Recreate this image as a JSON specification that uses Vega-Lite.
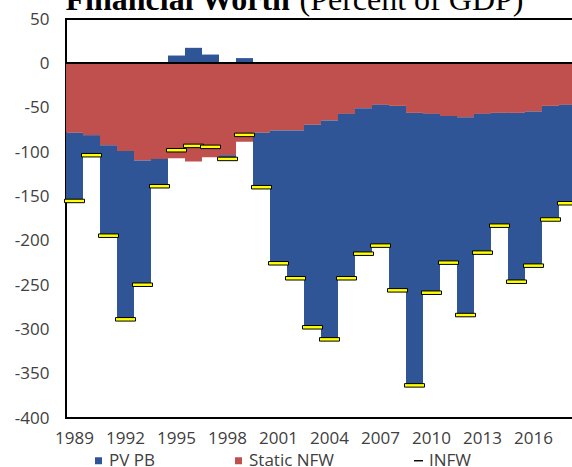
{
  "$schema": "https://vega.github.io/schema/vega-lite/v6.json",
  "autosize": "none",
  "padding": {"left": 66, "top": 19, "right": 0, "bottom": 49},
  "width": 510,
  "height": 399,
  "background": "#ffffff",
  "config": {
    "view": {"stroke": "#000000", "strokeWidth": 2},
    "axis": {"labelFont": "Open Sans", "labelFontSize": 17, "labelColor": "#404040", "ticks": false, "domain": false, "grid": false}
  },
  "data": {"values": [
    {"year": 1989, "series": "Static NFW", "value": -78.4}, {"year": 1989, "series": "PV PB", "value": -76.8}, {"year": 1989, "series": "INFW", "value": -155.2},
    {"year": 1990, "series": "Static NFW", "value": -81.0}, {"year": 1990, "series": "PV PB", "value": -22.6}, {"year": 1990, "series": "INFW", "value": -103.6},
    {"year": 1991, "series": "Static NFW", "value": -92.3}, {"year": 1991, "series": "PV PB", "value": -102.1}, {"year": 1991, "series": "INFW", "value": -194.4},
    {"year": 1992, "series": "Static NFW", "value": -98.8}, {"year": 1992, "series": "PV PB", "value": -189.9}, {"year": 1992, "series": "INFW", "value": -288.7},
    {"year": 1993, "series": "Static NFW", "value": -109.7}, {"year": 1993, "series": "PV PB", "value": -140.0}, {"year": 1993, "series": "INFW", "value": -249.7},
    {"year": 1994, "series": "Static NFW", "value": -107.8}, {"year": 1994, "series": "PV PB", "value": -30.8}, {"year": 1994, "series": "INFW", "value": -138.6},
    {"year": 1995, "series": "Static NFW", "value": -107.0}, {"year": 1995, "series": "PV PB", "value": 8.8}, {"year": 1995, "series": "INFW", "value": -98.0},
    {"year": 1996, "series": "Static NFW", "value": -110.8}, {"year": 1996, "series": "PV PB", "value": 17.5}, {"year": 1996, "series": "INFW", "value": -93.1},
    {"year": 1997, "series": "Static NFW", "value": -105.9}, {"year": 1997, "series": "PV PB", "value": 9.9}, {"year": 1997, "series": "INFW", "value": -94.2},
    {"year": 1998, "series": "Static NFW", "value": -103.6}, {"year": 1998, "series": "PV PB", "value": -4.2}, {"year": 1998, "series": "INFW", "value": -107.8},
    {"year": 1999, "series": "Static NFW", "value": -88.3}, {"year": 1999, "series": "PV PB", "value": 5.9}, {"year": 1999, "series": "INFW", "value": -80.7},
    {"year": 2000, "series": "Static NFW", "value": -78.4}, {"year": 2000, "series": "PV PB", "value": -61.3}, {"year": 2000, "series": "INFW", "value": -139.7},
    {"year": 2001, "series": "Static NFW", "value": -75.8}, {"year": 2001, "series": "PV PB", "value": -149.7}, {"year": 2001, "series": "INFW", "value": -225.5},
    {"year": 2002, "series": "Static NFW", "value": -75.8}, {"year": 2002, "series": "PV PB", "value": -166.6}, {"year": 2002, "series": "INFW", "value": -242.4},
    {"year": 2003, "series": "Static NFW", "value": -69.4}, {"year": 2003, "series": "PV PB", "value": -228.3}, {"year": 2003, "series": "INFW", "value": -297.7},
    {"year": 2004, "series": "Static NFW", "value": -64.6}, {"year": 2004, "series": "PV PB", "value": -246.7}, {"year": 2004, "series": "INFW", "value": -311.3},
    {"year": 2005, "series": "Static NFW", "value": -57.0}, {"year": 2005, "series": "PV PB", "value": -185.4}, {"year": 2005, "series": "INFW", "value": -242.4},
    {"year": 2006, "series": "Static NFW", "value": -50.6}, {"year": 2006, "series": "PV PB", "value": -164.1}, {"year": 2006, "series": "INFW", "value": -214.7},
    {"year": 2007, "series": "Static NFW", "value": -46.8}, {"year": 2007, "series": "PV PB", "value": -158.8}, {"year": 2007, "series": "INFW", "value": -205.6},
    {"year": 2008, "series": "Static NFW", "value": -48.0}, {"year": 2008, "series": "PV PB", "value": -208.0}, {"year": 2008, "series": "INFW", "value": -256.0},
    {"year": 2009, "series": "Static NFW", "value": -55.9}, {"year": 2009, "series": "PV PB", "value": -307.3}, {"year": 2009, "series": "INFW", "value": -363.2},
    {"year": 2010, "series": "Static NFW", "value": -57.0}, {"year": 2010, "series": "PV PB", "value": -201.7}, {"year": 2010, "series": "INFW", "value": -258.7},
    {"year": 2011, "series": "Static NFW", "value": -59.3}, {"year": 2011, "series": "PV PB", "value": -165.5}, {"year": 2011, "series": "INFW", "value": -224.8},
    {"year": 2012, "series": "Static NFW", "value": -60.7}, {"year": 2012, "series": "PV PB", "value": -223.2}, {"year": 2012, "series": "INFW", "value": -283.9},
    {"year": 2013, "series": "Static NFW", "value": -57.0}, {"year": 2013, "series": "PV PB", "value": -156.5}, {"year": 2013, "series": "INFW", "value": -213.5},
    {"year": 2014, "series": "Static NFW", "value": -55.9}, {"year": 2014, "series": "PV PB", "value": -127.2}, {"year": 2014, "series": "INFW", "value": -183.1},
    {"year": 2015, "series": "Static NFW", "value": -55.9}, {"year": 2015, "series": "PV PB", "value": -190.4}, {"year": 2015, "series": "INFW", "value": -246.3},
    {"year": 2016, "series": "Static NFW", "value": -54.4}, {"year": 2016, "series": "PV PB", "value": -173.8}, {"year": 2016, "series": "INFW", "value": -228.2},
    {"year": 2017, "series": "Static NFW", "value": -48.0}, {"year": 2017, "series": "PV PB", "value": -128.1}, {"year": 2017, "series": "INFW", "value": -176.1},
    {"year": 2018, "series": "Static NFW", "value": -46.8}, {"year": 2018, "series": "PV PB", "value": -111.0}, {"year": 2018, "series": "INFW", "value": -157.8}
  ]},
  "layer": [
    {
      "transform": [{"filter": "datum.series !== 'INFW'"}],
      "mark": {"type": "bar"},
      "encoding": {
        "x": {
          "field": "year", "type": "ordinal",
          "scale": {"paddingInner": 0, "paddingOuter": 0},
          "axis": {
            "values": [1989, 1992, 1995, 1998, 2001, 2004, 2007, 2010, 2013, 2016],
            "labelAngle": 0, "labelPadding": 12,
            "title": "(Percent of GDP)",
            "titleFont": "Liberation Serif", "titleFontSize": 32, "titleFontWeight": "normal", "titleColor": "#000000",
            "titleAlign": "left", "titleBaseline": "alphabetic", "titleAngle": 0,
            "titleX": 233, "titleY": -409
          }
        },
        "y": {
          "field": "value", "type": "quantitative",
          "scale": {"domain": [-400, 50], "nice": false, "zero": false},
          "axis": {
            "values": [-400, -350, -300, -250, -200, -150, -100, -50, 0, 50],
            "labelExpr": "'' + datum.value",
            "labelPadding": 17,
            "title": "Financial Worth",
            "titleFont": "Liberation Serif", "titleFontSize": 32, "titleFontWeight": "bold", "titleColor": "#000000",
            "titleAlign": "left", "titleBaseline": "alphabetic", "titleAngle": 0,
            "titleX": -1, "titleY": -10
          }
        },
        "color": {
          "field": "series", "type": "nominal",
          "scale": {"domain": ["PV PB", "Static NFW", "INFW"], "range": ["#2F5597", "#C0504D", "#000000"]},
          "legend": {
            "orient": "none", "legendX": 24, "legendY": 433,
            "direction": "horizontal", "columns": 3, "columnPadding": 75,
            "title": null, "padding": 0,
            "symbolType": "square", "symbolSize": 49, "symbolStrokeWidth": 0,
            "labelFont": "Open Sans", "labelFontSize": 17, "labelColor": "#404040", "labelOffset": 2,
            "encode": {"symbols": {"update": {"shape": {"signal": "datum.value === 'INFW' ? 'M-1.3,-0.2H1.3V0.2H-1.3Z' : 'square'"}}}}
          }
        },
        "order": {"field": "series", "sort": "descending"}
      }
    },
    {
      "mark": {"type": "rule", "color": "#000000", "strokeWidth": 1.5},
      "encoding": {"y": {"datum": 0, "type": "quantitative"}}
    },
    {
      "transform": [{"filter": "datum.series === 'INFW'"}],
      "mark": {"type": "tick", "size": 20, "thickness": 3.5, "fill": "#FFFF00", "stroke": "#000000", "strokeWidth": 1, "opacity": 1, "filled": true},
      "encoding": {
        "x": {"field": "year", "type": "ordinal"},
        "y": {"field": "value", "type": "quantitative", "stack": null}
      }
    }
  ]
}
